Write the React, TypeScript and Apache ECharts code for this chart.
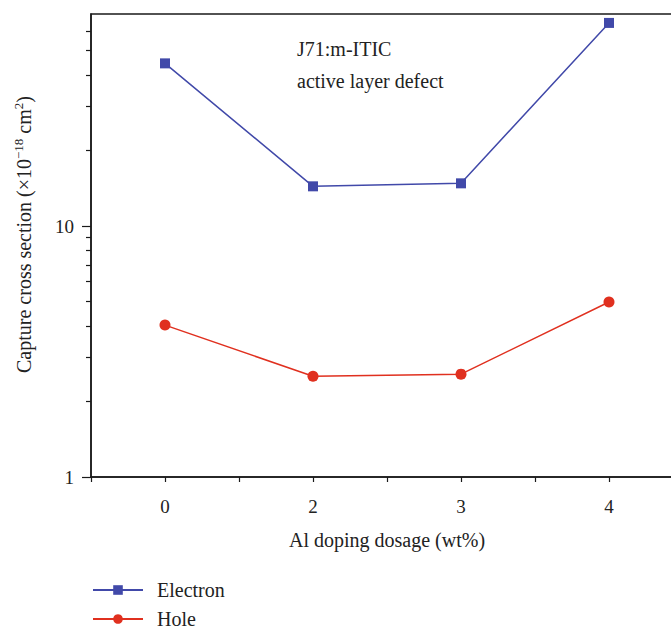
import React, { useEffect, useRef } from "react";
import * as echarts from "echarts";

// Al doping dosage (wt%) categories
const dosages = ["0", "2", "3", "4"];
// Capture cross sections (×10^-18 cm^2)
const electronValues = [44.5, 14.4, 14.8, 64.5];
const holeValues = [4.03, 2.52, 2.57, 4.98];
// Log-axis ticks
const majorTicks = [1, 10];
const minorTicks = [2, 3, 4, 5, 6, 7, 8, 9, 20, 30, 40, 50, 60];

const FONT = "'Liberation Serif', 'DejaVu Serif', serif";
const BLUE = "#4149A9";
const RED = "#E0301F";
const INK = "#222222";

// The plot frame runs past the right edge of the visible area.
const VIEW_W = 671;
const VIEW_H = 629;
const CHART_W = 683;

export default function App() {
  const ref = useRef<HTMLDivElement>(null);

  useEffect(() => {
    if (!ref.current) return;
    const chart = echarts.init(ref.current, undefined, { renderer: "svg" });

    const yRange = { type: "log" as const, logBase: 10, min: 1, max: 70 };

    chart.setOption({
      animation: false,
      backgroundColor: "#ffffff",
      textStyle: { fontFamily: FONT, color: INK },
      grid: {
        left: 91,
        top: 14,
        right: 0,
        bottom: 152,
        show: true,
        borderColor: "#1a1a1a",
        borderWidth: 1.5,
        backgroundColor: "transparent",
      },
      legend: {
        orient: "vertical",
        left: 92,
        top: 580,
        height: 60,
        padding: 0,
        itemWidth: 50,
        itemHeight: 12,
        itemGap: 9,
        textStyle: { fontFamily: FONT, fontSize: 20, lineHeight: 20, color: INK, padding: [0, 0, 0, 9] },
        data: ["Electron", "Hole"],
      },
      xAxis: [
        {
          type: "category",
          data: dosages,
          boundaryGap: true,
          name: "Al doping dosage (wt%)",
          nameLocation: "middle",
          nameGap: 53,
          nameTextStyle: { fontFamily: FONT, fontSize: 20, color: INK },
          axisLine: { lineStyle: { color: "#1a1a1a", width: 1.5 } },
          axisTick: { show: true, length: 5, lineStyle: { color: "#1a1a1a", width: 1.2 } },
          axisLabel: { fontFamily: FONT, fontSize: 19, color: INK, margin: 20 },
          splitLine: { show: false },
        },
        {
          type: "category",
          data: dosages,
          boundaryGap: true,
          position: "bottom",
          axisLine: { show: false },
          axisTick: { show: true, alignWithLabel: true, length: 5, lineStyle: { color: "#1a1a1a", width: 1.2 } },
          axisLabel: { show: false },
          splitLine: { show: false },
        },
      ],
      yAxis: [
        {
          ...yRange,
          name: "{a|Capture cross section (×10}{s|−18}{a| cm}{s|2}{a|)}",
          nameLocation: "middle",
          nameGap: 55,
          nameTextStyle: {
            padding: [0, 0, 0, 22],
            rich: {
              a: { fontFamily: FONT, fontSize: 20, color: INK },
              s: { fontFamily: FONT, fontSize: 13, color: INK, padding: [0, 0, 11, 0] },
            },
          },
          axisLine: { show: true, lineStyle: { color: "#1a1a1a", width: 1.5 } },
          axisTick: { show: true, length: 9, customValues: majorTicks, lineStyle: { color: "#1a1a1a", width: 1.2 } },
          axisLabel: { fontFamily: FONT, fontSize: 19, color: INK, margin: 17, customValues: majorTicks },
          splitLine: { show: false },
        },
        {
          ...yRange,
          position: "left",
          axisLine: { show: false },
          axisTick: { show: true, length: 5, customValues: minorTicks, lineStyle: { color: "#1a1a1a", width: 1.2 } },
          axisLabel: { show: false },
          splitLine: { show: false },
        },
      ],
      graphic: [
        {
          type: "text",
          left: 297,
          top: 39,
          style: { text: "J71:m-ITIC", fontFamily: FONT, fontSize: 20, fill: INK },
        },
        {
          type: "text",
          left: 297,
          top: 71,
          style: { text: "active layer defect", fontFamily: FONT, fontSize: 20, fill: INK },
        },
      ],
      series: [
        {
          name: "Electron",
          type: "line",
          xAxisIndex: 0,
          yAxisIndex: 0,
          data: electronValues,
          symbol: "rect",
          symbolSize: 10,
          lineStyle: { color: BLUE, width: 1.5 },
          itemStyle: { color: BLUE },
        },
        {
          name: "Hole",
          type: "line",
          xAxisIndex: 0,
          yAxisIndex: 0,
          data: holeValues,
          symbol: "circle",
          symbolSize: 11,
          lineStyle: { color: RED, width: 1.5 },
          itemStyle: { color: RED },
        },
      ],
    });

    return () => chart.dispose();
  }, []);

  return (
    <div
      style={{
        position: "absolute",
        left: 0,
        top: 0,
        width: VIEW_W,
        height: VIEW_H,
        overflow: "hidden",
        background: "#ffffff",
      }}
    >
      <div ref={ref} style={{ width: CHART_W, height: VIEW_H }} />
    </div>
  );
}
